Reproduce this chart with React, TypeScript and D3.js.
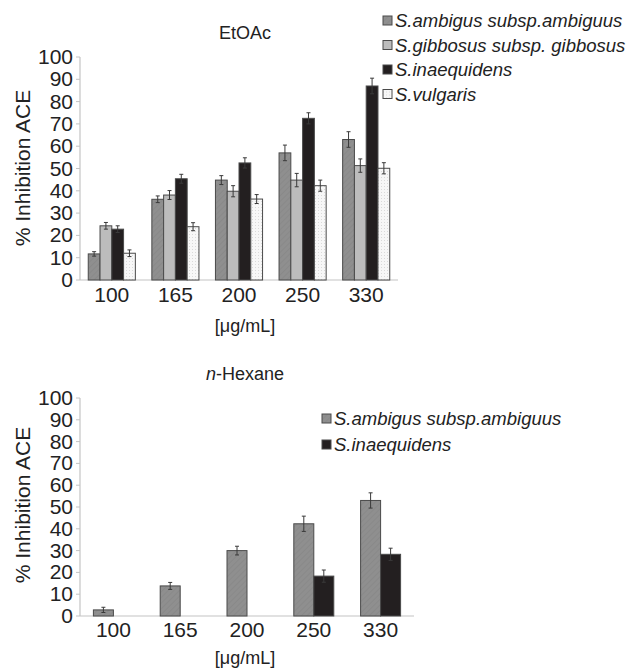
import React from 'react';
import * as d3 from 'd3';

const doses = ['100', '165', '200', '250', '330'];
const yTicks = [0, 10, 20, 30, 40, 50, 60, 70, 80, 90, 100];

// EtOAc extract
const etAmbiguus = [11.7, 36.2, 44.8, 57, 63];
const etAmbiguusErr = [1, 1.5, 2, 3.5, 3.5];
const etGibbosus = [24.3, 38.1, 39.8, 44.8, 51.3];
const etGibbosusErr = [1.5, 2, 2.5, 3, 3];
const etInaequidens = [22.8, 45.4, 52.5, 72.5, 87];
const etInaequidensErr = [1.5, 2, 2.3, 2.5, 3.5];
const etVulgaris = [12, 23.9, 36.3, 42.3, 50.1];
const etVulgarisErr = [1.5, 1.8, 2, 2.5, 2.5];

// n-Hexane extract
const hxAmbiguus = [2.8, 13.8, 30, 42.3, 53];
const hxAmbiguusErr = [1.2, 1.6, 2, 3.5, 3.5];
const hxInaequidens = [null, null, null, 18.3, 28.3];
const hxInaequidensErr = [null, null, null, 2.8, 2.8];

const seriesStyle = {
  ambiguus: { name: 'S.ambigus subsp.ambiguus', fill: 'url(#hatch)' },
  gibbosus: { name: 'S.gibbosus subsp. gibbosus', fill: '#bcbcbc' },
  inaequidens: { name: 'S.inaequidens', fill: '#231f20' },
  vulgaris: { name: 'S.vulgaris', fill: 'url(#dots)' },
};

const font = 'Liberation Sans, Arial, sans-serif';
const axisColor = '#c4c4c4';

function Panel(props) {
  const { top, bottom, left, right, series, gap, title, legend, xLabelY, xTitleY, yTitleY } = props;
  const x = d3.scaleBand().domain(doses).range([left, right]).padding(0);
  const y = d3.scaleLinear().domain([0, 100]).range([bottom, top]);
  const groupW = x.bandwidth() / (1 + gap);
  const inner = d3.scaleBand().domain(series.map((s) => s.key)).range([-groupW / 2, groupW / 2]);

  return (
    <g>
      <text x={245} y={top - 18} textAnchor="middle" fontSize={18} fontFamily={font} fill="#222">
        {title}
      </text>
      <text
        transform={`translate(30,${yTitleY}) rotate(-90)`}
        textAnchor="middle"
        fontSize={21}
        fontFamily={font}
        fill="#222"
      >
        % Inhibition ACE
      </text>
      {yTicks.map((t) => (
        <g key={t}>
          <line x1={left - 4} x2={left} y1={y(t)} y2={y(t)} stroke={axisColor} />
          <text x={left - 7} y={y(t) + 7} textAnchor="end" fontSize={21} fontFamily={font} fill="#222">
            {t}
          </text>
        </g>
      ))}
      <line x1={left} x2={left} y1={top} y2={bottom} stroke={axisColor} strokeWidth={1.2} />
      <line x1={left} x2={right} y1={bottom} y2={bottom} stroke={axisColor} strokeWidth={1.2} />
      {series.map((s) =>
        s.values.map((v, i) => {
          if (v == null) return null;
          const cx = x(doses[i]) + x.bandwidth() / 2 + inner(s.key);
          const w = inner.bandwidth();
          const e = s.err[i];
          const mid = cx + w / 2;
          return (
            <g key={s.key + i}>
              <rect x={cx} y={y(v)} width={w} height={y(0) - y(v)} fill={seriesStyle[s.key].fill} stroke="#4a4a4a" strokeWidth={1} />
              <line x1={mid} x2={mid} y1={y(v + e)} y2={y(v - e)} stroke="#3a3a3a" strokeWidth={1} />
              <line x1={mid - 2} x2={mid + 2} y1={y(v + e)} y2={y(v + e)} stroke="#3a3a3a" strokeWidth={1} />
              <line x1={mid - 2} x2={mid + 2} y1={y(v - e)} y2={y(v - e)} stroke="#3a3a3a" strokeWidth={1} />
            </g>
          );
        })
      )}
      {doses.map((d) => (
        <text key={d} x={x(d) + x.bandwidth() / 2} y={xLabelY} textAnchor="middle" fontSize={21} fontFamily={font} fill="#222">
          {d}
        </text>
      ))}
      <text x={245} y={xTitleY} textAnchor="middle" fontSize={18} fontFamily={font} fill="#222">
        [μg/mL]
      </text>
      {legend.keys.map((k, i) => (
        <g key={k} transform={`translate(${legend.x},${legend.y + i * legend.step})`}>
          <rect x={0} y={-5} width={9} height={9} fill={seriesStyle[k].fill} stroke="#4a4a4a" strokeWidth={1} />
          <text x={12} y={6} fontSize={18.5} fontStyle="italic" fontFamily={font} fill="#222">
            {seriesStyle[k].name}
          </text>
        </g>
      ))}
    </g>
  );
}

export default function App() {
  const etSeries = [
    { key: 'ambiguus', values: etAmbiguus, err: etAmbiguusErr },
    { key: 'gibbosus', values: etGibbosus, err: etGibbosusErr },
    { key: 'inaequidens', values: etInaequidens, err: etInaequidensErr },
    { key: 'vulgaris', values: etVulgaris, err: etVulgarisErr },
  ];
  const hxSeries = [
    { key: 'ambiguus', values: hxAmbiguus, err: hxAmbiguusErr },
    { key: 'inaequidens', values: hxInaequidens, err: hxInaequidensErr },
  ];

  return (
    <div style={{ position: 'absolute', left: 0, top: 0 }}>
      <svg width={628} height={668} style={{ display: 'block', background: '#fff' }}>
        <defs>
          <pattern id="hatch" width={4} height={4} patternUnits="userSpaceOnUse" patternTransform="rotate(45)">
            <rect width={4} height={4} fill="#8f8f8f" />
            <line x1={0} y1={0} x2={0} y2={4} stroke="#858585" strokeWidth={1.2} />
          </pattern>
          <pattern id="dots" width={3} height={3} patternUnits="userSpaceOnUse">
            <rect width={3} height={3} fill="#f7f7f7" />
            <rect width={1} height={1} fill="#dadada" />
          </pattern>
        </defs>
        <Panel
          top={57}
          bottom={280}
          left={80}
          right={398}
          series={etSeries}
          gap={0.35}
          title="EtOAc"
          xLabelY={302}
          xTitleY={332}
          yTitleY={168}
          legend={{ x: 383, y: 21, step: 24.5, keys: ['ambiguus', 'gibbosus', 'inaequidens', 'vulgaris'] }}
        />
        <Panel
          top={398}
          bottom={616}
          left={80}
          right={414}
          series={hxSeries}
          gap={0.67}
          title={<tspan><tspan fontStyle="italic">n</tspan>-Hexane</tspan>}
          xLabelY={637}
          xTitleY={664}
          yTitleY={505}
          legend={{ x: 322, y: 419, step: 26, keys: ['ambiguus', 'inaequidens'] }}
        />
      </svg>
    </div>
  );
}
